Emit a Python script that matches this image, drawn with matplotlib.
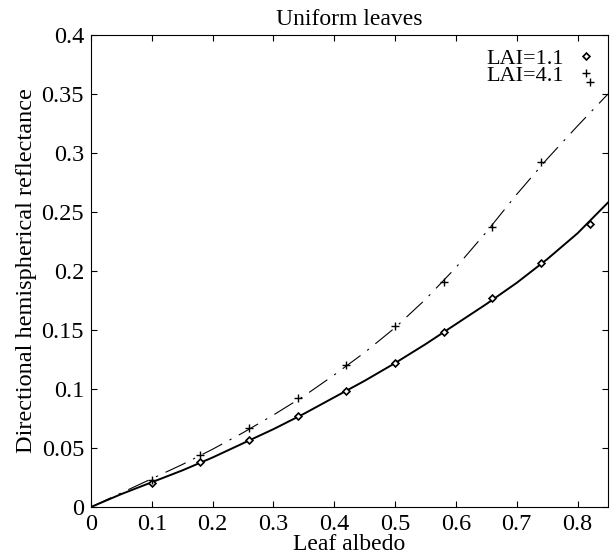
import numpy as np
import matplotlib.pyplot as plt

plt.rcParams['font.family'] = ['Liberation Serif', 'DejaVu Serif']

# model curves
curve_x = [0, 0.05, 0.1, 0.15, 0.2, 0.25, 0.3, 0.35, 0.4, 0.45, 0.5, 0.55, 0.6, 0.65, 0.7, 0.75, 0.8, 0.85]
curve_lai11 = [0, 0.011, 0.021, 0.031, 0.042, 0.054, 0.066, 0.079, 0.093, 0.107, 0.122, 0.138, 0.155, 0.172, 0.190, 0.210, 0.232, 0.258]
curve_lai41 = [0, 0.012, 0.024, 0.036, 0.049, 0.063, 0.078, 0.094, 0.112, 0.131, 0.152, 0.176, 0.203, 0.233, 0.265, 0.295, 0.323, 0.350]

# simulated points
pts_x = [0.1, 0.18, 0.26, 0.34, 0.42, 0.5, 0.58, 0.66, 0.74, 0.82]
pts_lai11 = [0.020, 0.038, 0.057, 0.077, 0.098, 0.122, 0.148, 0.177, 0.207, 0.240]
pts_lai41 = [0.023, 0.044, 0.067, 0.092, 0.120, 0.153, 0.191, 0.237, 0.292, 0.360]

fig = plt.figure(figsize=(6.1, 5.54), dpi=100)
ax = fig.add_axes([0.1492, 0.0848, 0.8475, 0.852])

ax.plot(curve_x, curve_lai11, color='black', lw=1.4)
ax.plot(curve_x, curve_lai41, color='black', lw=0.8, dashes=(20, 7.5, 2, 7.5))
d, = ax.plot(pts_x, pts_lai11, 'D', ms=3.5, mfc='white', mec='black', mew=1.2, label='LAI=1.1')
p, = ax.plot(pts_x, pts_lai41, '+', ms=6, color='black', mew=1, label='LAI=4.1')

ax.set_xlim(0, 0.85)
ax.set_ylim(0, 0.4)
ax.set_xticks([0, 0.1, 0.2, 0.3, 0.4, 0.5, 0.6, 0.7, 0.8])
ax.set_xticklabels(['0', '0.1', '0.2', '0.3', '0.4', '0.5', '0.6', '0.7', '0.8'])
ax.set_yticks([0, 0.05, 0.1, 0.15, 0.2, 0.25, 0.3, 0.35, 0.4])
ax.set_yticklabels(['0', '0.05', '0.1', '0.15', '0.2', '0.25', '0.3', '0.35', '0.4'])
ax.tick_params(direction='in', top=True, right=True, labelsize=17.5, length=4, pad=5)
for s in ax.spines.values():
    s.set_linewidth(0.8)

ax.set_title('Uniform leaves', fontsize=17, pad=7)
ax.set_xlabel('Leaf albedo', fontsize=17, labelpad=-1)
ax.set_ylabel('Directional hemispherical reflectance', fontsize=17.5, labelpad=3)

ax.legend(handles=[d, p], loc='upper right', frameon=False, markerfirst=False,
          fontsize=16, handlelength=0.8, handletextpad=0.6, labelspacing=-0.15,
          borderaxespad=0.2)

fig.savefig('out.png', dpi=100)
